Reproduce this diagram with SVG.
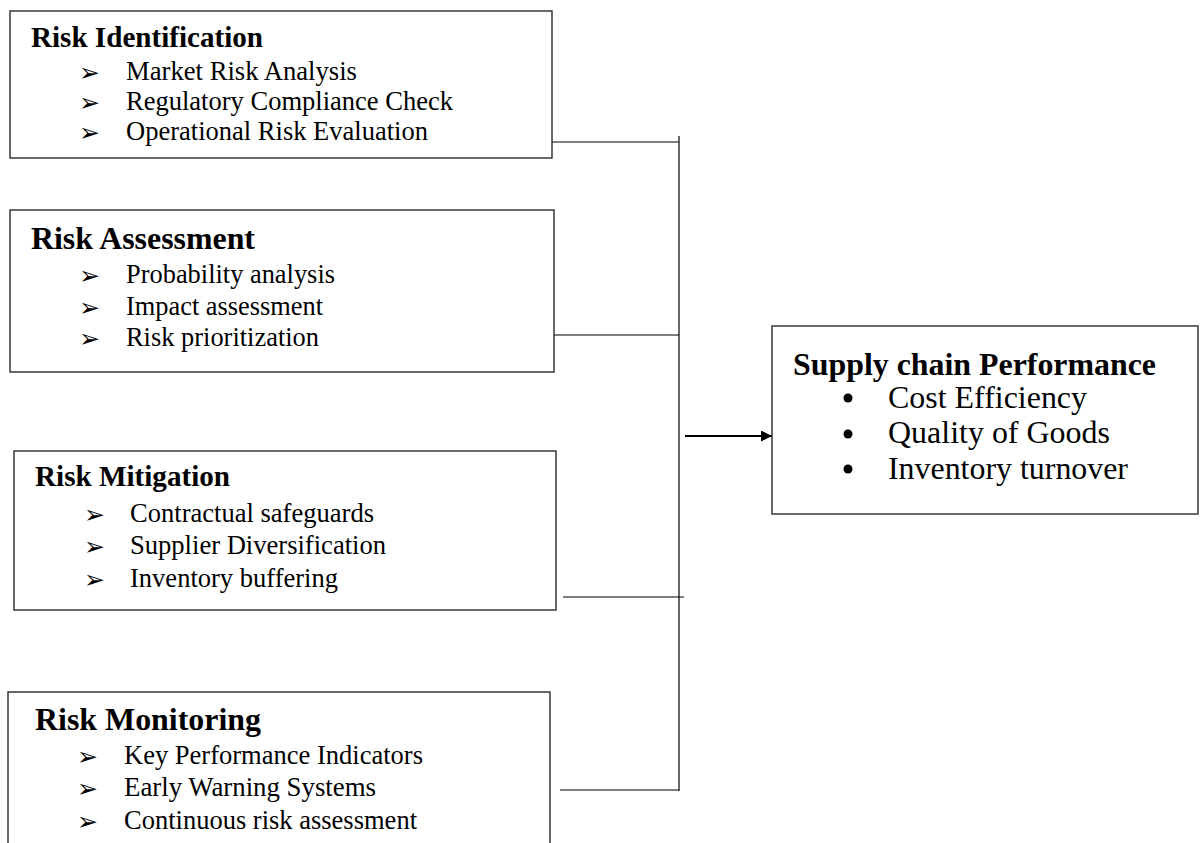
<svg xmlns="http://www.w3.org/2000/svg" width="1203" height="843" viewBox="0 0 1203 843">
<style>
.box{fill:#fff;stroke:#2a2a2a;stroke-width:1.4}
.t{font-family:"Liberation Serif","Times New Roman",serif;font-weight:bold;fill:#000}
.i{font-family:"Liberation Serif","Times New Roman",serif;font-size:26.5px;fill:#000}
.j{font-family:"Liberation Serif","Times New Roman",serif;font-size:31.5px;fill:#000}
.b{font-family:"DejaVu Sans",sans-serif;font-size:25px;font-weight:bold}
.dot{fill:#000}
.c{stroke:#000;stroke-width:1.2;fill:none}
</style>
<defs>
<marker id="ah" viewBox="0 0 10 10" refX="10" refY="5" markerWidth="5" markerHeight="5" markerUnits="strokeWidth" orient="auto">
<path d="M0,0 L10,5 L0,10 z" fill="#000"/>
</marker>
</defs>
<rect width="1203" height="843" fill="#fff"/>
<g id="connectors">
<line class="c" x1="679" y1="136" x2="679" y2="791"/>
<line class="c" x1="552" y1="142" x2="679" y2="142"/>
<line class="c" x1="554" y1="335" x2="679" y2="335"/>
<line class="c" x1="563" y1="597" x2="684" y2="597"/>
<line class="c" x1="560" y1="790" x2="679" y2="790"/>
<line x1="685" y1="436" x2="772" y2="436" stroke="#000" stroke-width="2.2" marker-end="url(#ah)"/>
</g>
<g id="risk-identification">
<rect class="box" x="10" y="11" width="542" height="147"/>
<text class="t" x="31" y="47" font-size="29" textLength="232" lengthAdjust="spacingAndGlyphs">Risk Identification</text>
<text class="i" y="80"><tspan class="b" x="79" dy="1">➢</tspan><tspan x="126" dy="-1" textLength="231" lengthAdjust="spacingAndGlyphs">Market Risk Analysis</tspan></text>
<text class="i" y="110"><tspan class="b" x="79" dy="1">➢</tspan><tspan x="126" dy="-1" textLength="327" lengthAdjust="spacingAndGlyphs">Regulatory Compliance Check</tspan></text>
<text class="i" y="140"><tspan class="b" x="79" dy="1">➢</tspan><tspan x="126" dy="-1" textLength="302" lengthAdjust="spacingAndGlyphs">Operational Risk Evaluation</tspan></text>
</g>
<g id="risk-assessment">
<rect class="box" x="10" y="210" width="544" height="162"/>
<text class="t" x="31" y="249" font-size="31.5" textLength="224" lengthAdjust="spacingAndGlyphs">Risk Assessment</text>
<text class="i" y="283"><tspan class="b" x="79" dy="1">➢</tspan><tspan x="126" dy="-1" textLength="209" lengthAdjust="spacingAndGlyphs">Probability analysis</tspan></text>
<text class="i" y="315"><tspan class="b" x="79" dy="1">➢</tspan><tspan x="126" dy="-1" textLength="197" lengthAdjust="spacingAndGlyphs">Impact assessment</tspan></text>
<text class="i" y="346"><tspan class="b" x="79" dy="1">➢</tspan><tspan x="126" dy="-1" textLength="193" lengthAdjust="spacingAndGlyphs">Risk prioritization</tspan></text>
</g>
<g id="risk-mitigation">
<rect class="box" x="14" y="451" width="542" height="159"/>
<text class="t" x="35" y="486" font-size="29" textLength="195" lengthAdjust="spacingAndGlyphs">Risk Mitigation</text>
<text class="i" y="522"><tspan class="b" x="84" dy="1">➢</tspan><tspan x="130" dy="-1" textLength="244" lengthAdjust="spacingAndGlyphs">Contractual safeguards</tspan></text>
<text class="i" y="554"><tspan class="b" x="84" dy="1">➢</tspan><tspan x="130" dy="-1" textLength="256" lengthAdjust="spacingAndGlyphs">Supplier Diversification</tspan></text>
<text class="i" y="587"><tspan class="b" x="84" dy="1">➢</tspan><tspan x="130" dy="-1" textLength="208" lengthAdjust="spacingAndGlyphs">Inventory buffering</tspan></text>
</g>
<g id="risk-monitoring">
<rect class="box" x="8" y="692" width="542" height="170"/>
<text class="t" x="35" y="730" font-size="31.5" textLength="226" lengthAdjust="spacingAndGlyphs">Risk Monitoring</text>
<text class="i" y="764"><tspan class="b" x="77" dy="1">➢</tspan><tspan x="124" dy="-1" textLength="299" lengthAdjust="spacingAndGlyphs">Key Performance Indicators</tspan></text>
<text class="i" y="796"><tspan class="b" x="77" dy="1">➢</tspan><tspan x="124" dy="-1" textLength="252" lengthAdjust="spacingAndGlyphs">Early Warning Systems</tspan></text>
<text class="i" y="829"><tspan class="b" x="77" dy="1">➢</tspan><tspan x="124" dy="-1" textLength="293" lengthAdjust="spacingAndGlyphs">Continuous risk assessment</tspan></text>
</g>
<g id="supply-chain-performance">
<rect class="box" x="772" y="326" width="426" height="188"/>
<text class="t" x="793" y="375" font-size="31.5" textLength="363" lengthAdjust="spacingAndGlyphs">Supply chain Performance</text>
<circle class="dot" cx="848" cy="398" r="4.5"/>
<text class="j" x="888" y="408" textLength="199" lengthAdjust="spacingAndGlyphs">Cost Efficiency</text>
<circle class="dot" cx="848" cy="434" r="4.5"/>
<text class="j" x="888" y="443" textLength="222" lengthAdjust="spacingAndGlyphs">Quality of Goods</text>
<circle class="dot" cx="848" cy="469" r="4.5"/>
<text class="j" x="888" y="479" textLength="240" lengthAdjust="spacingAndGlyphs">Inventory turnover</text>
</g>
</svg>
